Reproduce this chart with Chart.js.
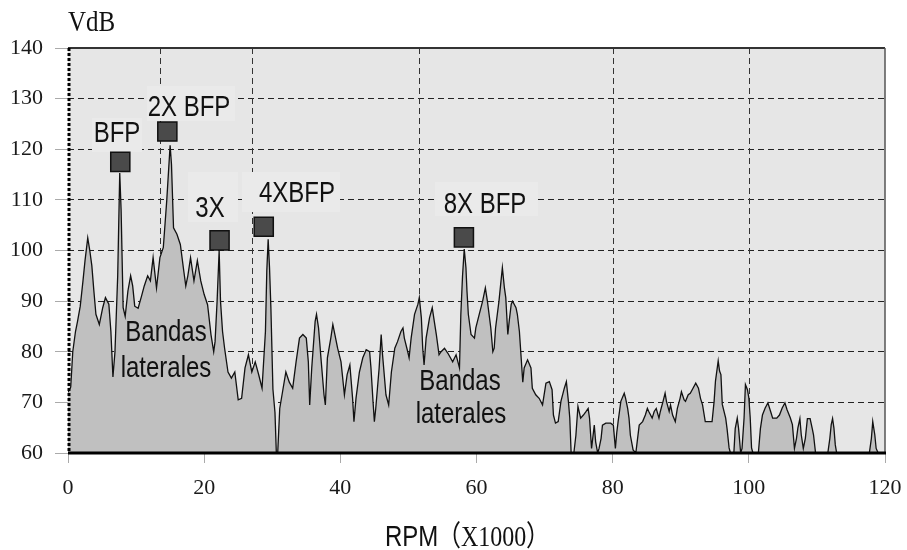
<!DOCTYPE html>
<html>
<head>
<meta charset="utf-8">
<script src="https://cdn.jsdelivr.net/npm/chart.js@4.4.1/dist/chart.umd.min.js"></script>
<style>
  html, body { margin: 0; padding: 0; background: #fff; }
</style>
</head>
<body>
<canvas id="spectrum" width="907" height="550"></canvas>
<script>
// Espectro de vibración: RPM (x1000) vs VdB
const rpm = [
  0, 0.4, 0.7, 1.1, 1.4, 1.8, 2.2, 2.5, 2.9, 3.2,
  3.5, 3.8, 4.1, 4.6, 5.1, 5.5, 6.0, 6.3, 6.6, 6.9,
  7.3, 7.6, 7.8, 8.1, 8.4, 8.8, 9.2, 9.5, 9.8, 10.3,
  10.8, 11.2, 11.7, 12.1, 12.5, 13.0, 13.5, 14.0, 14.5, 15.0,
  15.2, 15.5, 16.0, 16.5, 17.0, 17.3, 17.6, 18.0, 18.5, 19.0,
  19.5, 20.0, 20.5, 21.0, 21.4, 21.6, 21.9, 22.2, 22.4, 22.7,
  23.0, 23.5, 24.0, 24.5, 25.0, 25.5, 26.0, 26.5, 27.0, 27.5,
  28.0, 28.5, 29.0, 29.2, 29.4, 29.6, 29.8, 30.1, 30.4, 30.6,
  30.8, 31.1, 31.5, 32.0, 32.5, 33.0, 33.5, 34.0, 34.5, 35.0,
  35.3, 35.5, 35.8, 36.3, 36.5, 36.8, 37.2, 37.6, 37.8, 38.1,
  38.6, 38.9, 39.2, 39.6, 40.1, 40.6, 41.0, 41.4, 41.8, 42.0,
  42.3, 42.8, 43.3, 43.8, 44.3, 44.5, 44.8, 45.0, 45.2, 45.7,
  46.0, 46.2, 46.7, 47.1, 47.5, 48.0, 48.4, 48.9, 49.2, 49.4,
  49.9, 50.1, 50.4, 50.9, 51.4, 51.6, 51.9, 52.1, 52.3, 52.6,
  53.1, 53.5, 53.8, 54.1, 54.5, 54.8, 55.3, 55.8, 56.5, 57.0,
  57.5, 57.7, 57.95, 58.2, 58.45, 58.6, 58.8, 59.2, 59.7, 59.9,
  60.4, 60.9, 61.3, 61.6, 62.1, 62.4, 62.6, 62.8, 63.3, 63.6,
  63.8, 64.1, 64.3, 64.6, 64.8, 65.1, 65.3, 65.8, 66.0, 66.3,
  66.8, 67.0, 67.5, 68.0, 68.2, 68.7, 69.2, 69.7, 70.2, 70.7,
  71.1, 71.3, 71.6, 72.0, 72.4, 72.9, 73.2, 73.5, 73.7, 73.9,
  74.3, 74.6, 74.9, 75.3, 75.7, 76.1, 76.4, 76.6, 76.9, 77.3,
  77.5, 77.8, 78.0, 78.3, 78.5, 79.0, 79.7, 80.1, 80.4, 80.6,
  80.8, 81.2, 81.7, 81.9, 82.2, 82.4, 82.6, 83.0, 83.4, 83.6,
  83.9, 84.4, 84.8, 85.1, 85.3, 85.8, 86.1, 86.4, 86.8, 87.0,
  87.4, 87.7, 87.9, 88.3, 88.5, 88.8, 89.2, 89.5, 89.9, 90.1,
  90.5, 90.7, 91.1, 91.4, 91.8, 92.2, 92.6, 92.9, 93.2, 93.6,
  94.6, 94.9, 95.1, 95.5, 95.7, 95.9, 96.1, 96.6, 96.8, 97.1,
  97.3, 97.8, 98.0, 98.3, 98.5, 98.8, 99.0, 99.3, 99.5, 99.8,
  100.0, 100.2, 100.4, 100.6, 101.4, 101.7, 102.0, 102.4, 102.8, 103.2,
  103.5, 104.1, 104.5, 104.9, 105.3, 105.6, 106.1, 106.4, 106.7, 107.0,
  107.2, 107.5, 107.7, 108.0, 108.3, 108.6, 109.0, 109.3, 109.5, 109.8,
  111.6, 111.9, 112.1, 112.3, 112.5, 112.7, 112.9, 117.7, 118.0, 118.2,
  118.5, 118.7, 119.0, 120
];
const vdb = [
  72, 73, 80, 84, 86, 89, 94, 98, 102.5, 100,
  97, 92, 87.4, 85.4, 88.7, 90.7, 89.4, 84, 75, 80,
  95, 115.3, 108, 88.7, 87, 92, 95, 93, 89, 88.6,
  91, 93, 95, 94, 98.6, 92.6, 98.6, 100.6, 109.8, 120.8,
  117, 104.5, 103.2, 101.2, 96, 93, 95, 98.6, 94, 98,
  94, 91.3, 89.3, 83.4, 80, 82, 90, 100, 90, 84,
  80.7, 76, 74.8, 76, 70.5, 70.8, 76.8, 79.4, 76, 78,
  75.5, 72.8, 84, 96, 102.2, 96.6, 88.7, 72.6, 68, 60,
  60, 68.8, 72, 76, 74, 72.8, 78, 82.7, 83.4, 82.7,
  78, 69.5, 76.8, 86, 87.4, 84.7, 78, 71.5, 69.5, 78.8,
  82.7, 85.4, 83.4, 80.7, 78, 71.5, 75.5, 77.4, 70.8, 66.2,
  70.8, 76, 78.8, 80.4, 80, 76.8, 70.2, 66.2, 68.8, 76.8,
  83.4, 79.4, 71.5, 69.5, 76, 80.7, 82, 84, 84.7, 82.7,
  80, 78.8, 82.7, 87.4, 89.4, 90.7, 86.7, 80.7, 77.4, 82.7,
  86.7, 88.7, 86, 83.4, 79.4, 80, 80.7, 79.7, 78, 79.4,
  76.8, 87.4, 95, 100.3, 96.6, 92, 87.4, 83.4, 82.7, 84.7,
  87.4, 90, 92.6, 90, 84.7, 80, 80.7, 84.7, 90, 94,
  96.6, 92.6, 90.7, 83.4, 86, 89.4, 90, 88.7, 87.4, 84,
  74, 76.8, 78.4, 76.8, 72.8, 71.5, 70.8, 69.5, 73.8, 74.1,
  72.5, 67.5, 65.9, 66.2, 70.2, 72.8, 74.1, 70.2, 66.9, 60,
  60, 63.5, 69.2, 66.9, 67.5, 68.2, 68.8, 66.9, 60.9, 65.5,
  62.2, 60, 60.9, 62.9, 65.5, 65.9, 65.9, 65.5, 60.9, 64,
  66.2, 70.2, 71.8, 70.8, 68.8, 66.9, 63.5, 60.6, 60, 62.2,
  65.5, 66.2, 67.5, 68.8, 68.2, 66.9, 68.2, 68.8, 66.9, 68.2,
  70.2, 71.8, 70.2, 68.2, 69.5, 67.5, 66.2, 68.8, 70.8, 72.1,
  70.5, 70.2, 71.5, 71.8, 72.8, 73.8, 72.8, 70.8, 69.5, 66.2,
  66.2, 70.2, 74.2, 78.2, 76.2, 75.5, 69.6, 66.9, 64.8, 61,
  60, 60, 64.8, 66.9, 64.8, 60, 60.9, 66.9, 73.5, 72.5,
  70.9, 67, 61, 60, 60, 64.8, 67.5, 68.9, 69.9, 68.2,
  66.9, 66.9, 67.5, 68.9, 69.9, 68.6, 66.9, 65.6, 60.9, 62.9,
  64.9, 66.8, 63.6, 60.9, 62.9, 66.8, 66.8, 64.9, 63.6, 60,
  60, 62.9, 65.6, 66.8, 64.9, 61.6, 60, 60, 62.9, 66.2,
  63.6, 60.9, 60, 60
];

// picos marcados (cuadros)
const peakRpm = [7.68, 14.59, 22.26, 28.75, 58.15];
const peakVdb = [117.5, 123.5, 102.0, 104.7, 102.6];
const peakNames = ['BFP', '2X BFP', '3X', '4XBFP', '8X BFP'];

const yTicks = [60, 70, 80, 90, 100, 110, 120, 130, 140];
const xTicks = [0, 20, 40, 60, 80, 100, 120];

const PLOT_BG = '#e6e6e6';

// texto estirado en vertical, como el original
function tallText(ctx, str, x, baseline, font, align) {
    ctx.save();
    ctx.translate(x, baseline);
    ctx.scale(1, 1.2);
    ctx.font = font;
    ctx.textAlign = align || 'center';
    ctx.textBaseline = 'alphabetic';
    ctx.fillStyle = '#111';
    ctx.fillText(str, 0, 0);
    ctx.restore();
}

const decor = {
    id: 'decor',
    beforeDraw(chart) {
        const { ctx, chartArea: a } = chart;
        ctx.save();
        ctx.fillStyle = PLOT_BG;
        ctx.fillRect(a.left, a.top, a.right - a.left, a.bottom - a.top);
        ctx.restore();
    },
    beforeDatasetsDraw(chart) {
        const { ctx, chartArea: a, scales: { x } } = chart;
        ctx.save();
        // lineas verticales punteadas
        [13.5, 27, 51.5, 80, 100].forEach(v => {
            const px = Math.round(x.getPixelForValue(v)) + 0.5;
            ctx.strokeStyle = '#333';
            ctx.lineWidth = 1;
            ctx.setLineDash([6, 4]);
            ctx.beginPath();
            ctx.moveTo(px, a.top);
            ctx.lineTo(px, a.bottom);
            ctx.stroke();
        });
        ctx.setLineDash([]);
        // cajas claras detras de las etiquetas
        ctx.fillStyle = '#eaeaea';
        [[92, 118, 50, 34], [147, 86, 88, 35], [188, 172, 50, 50],
         [242, 172, 98, 40], [435, 182, 103, 34]].forEach(b => {
            ctx.fillRect(b[0], b[1], b[2], b[3]);
        });
        ctx.restore();
    },
    afterDraw(chart) {
        const { ctx, chartArea: a } = chart;
        ctx.save();
        // bordes del area
        ctx.strokeStyle = '#333';
        ctx.lineWidth = 2;
        ctx.beginPath();
        ctx.moveTo(a.left, a.top); ctx.lineTo(a.right, a.top);
        ctx.stroke();
        ctx.strokeStyle = '#555';
        ctx.lineWidth = 1.5;
        ctx.beginPath();
        ctx.moveTo(a.right, a.top); ctx.lineTo(a.right, a.bottom);
        ctx.stroke();
        ctx.strokeStyle = '#000';
        ctx.lineWidth = 3;
        ctx.beginPath();
        ctx.moveTo(a.left, a.bottom); ctx.lineTo(a.right + 1, a.bottom);
        ctx.stroke();
        ctx.setLineDash([3, 2]);
        ctx.beginPath();
        ctx.moveTo(a.left + 1, a.top); ctx.lineTo(a.left + 1, a.bottom);
        ctx.stroke();
        ctx.restore();

        const sans = '24px "Liberation Sans", Arial, sans-serif';
        const serif = '24px "Liberation Serif", "Times New Roman", serif';
        const cjk = '24px "Noto Sans CJK SC", sans-serif';

        // etiquetas de picos
        tallText(ctx, peakNames[0], 117, 142, sans);
        tallText(ctx, peakNames[1], 189, 116, sans);
        tallText(ctx, peakNames[2], 210, 217, sans);
        tallText(ctx, peakNames[3], 297, 202, sans);
        tallText(ctx, peakNames[4], 485, 213, sans);

        tallText(ctx, 'Bandas', 166, 341, sans);
        tallText(ctx, 'laterales', 166, 377, sans);
        tallText(ctx, 'Bandas', 460, 390, sans);
        tallText(ctx, 'laterales', 461, 423, sans);

        // titulos de ejes
        tallText(ctx, 'VdB', 68, 31, '25px "Liberation Serif", serif', 'left');
        tallText(ctx, 'RPM', 385, 546, sans, 'left');
        tallText(ctx, '（', 437, 546, cjk, 'left');
        tallText(ctx, 'X1000', 461, 546, serif, 'left');
        tallText(ctx, '）', 526, 546, cjk, 'left');
    }
};

const ctx = document.getElementById('spectrum').getContext('2d');
new Chart(ctx, {
    type: 'line',
    data: {
        datasets: [
            {
                label: 'picos',
                data: peakRpm.map((v, i) => ({ x: v, y: peakVdb[i] })),
                showLine: false,
                pointStyle: 'rect',
                pointRadius: 13.5,
                pointBackgroundColor: '#4a4a4a',
                pointBorderColor: '#111',
                pointBorderWidth: 1.5,
                order: 0
            },
            {
                label: 'VdB',
                data: rpm.map((v, i) => ({ x: v, y: vdb[i] })),
                borderColor: '#111',
                borderWidth: 1.3,
                backgroundColor: '#c0c0c0',
                fill: 'start',
                pointRadius: 0,
                tension: 0,
                order: 1
            }
        ]
    },
    options: {
        responsive: false,
        animation: false,
        devicePixelRatio: 1,
        layout: { padding: { top: 48, right: 22, left: 0, bottom: 0 } },
        plugins: {
            legend: { display: false },
            tooltip: { enabled: false }
        },
        scales: {
            x: {
                type: 'linear',
                min: 0,
                max: 120,
                afterBuildTicks: s => { s.ticks = xTicks.map(v => ({ value: v })); },
                afterFit: s => { s.height = 97; s.paddingLeft = 0; s.paddingRight = 0; },
                ticks: {
                    font: { family: '"Liberation Serif", serif', size: 22 },
                    color: '#1a1a1a',
                    padding: 12,
                    maxRotation: 0
                },
                grid: {
                    drawOnChartArea: false,
                    tickLength: 10,
                    tickColor: '#aaa',
                    tickWidth: 1
                },
                border: { display: false }
            },
            y: {
                min: 60,
                max: 140,
                afterBuildTicks: s => { s.ticks = yTicks.map(v => ({ value: v })); },
                afterFit: s => { s.width = 68; s.paddingTop = 0; s.paddingBottom = 0; },
                ticks: {
                    font: { family: '"Liberation Serif", serif', size: 22 },
                    color: '#1a1a1a',
                    padding: 12
                },
                grid: {
                    color: c => (c.tick && (c.tick.value === 60 || c.tick.value === 140)) ? 'rgba(0,0,0,0)' : '#222',
                    lineWidth: 1,
                    tickLength: 13,
                    tickColor: '#aaa',
                    tickBorderDash: []
                },
                border: { display: false, dash: [6, 4] }
            }
        }
    },
    plugins: [decor]
});
</script>
</body>
</html>
